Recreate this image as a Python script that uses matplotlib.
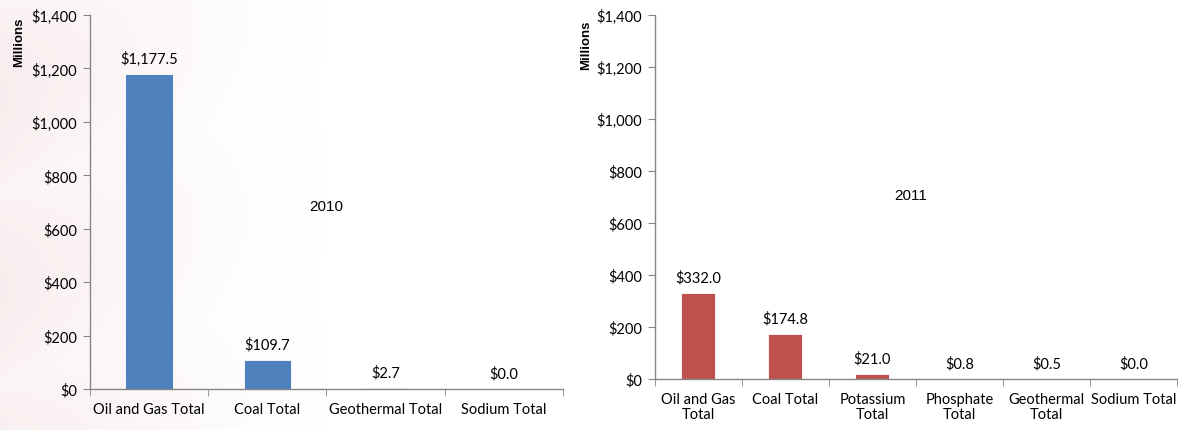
import matplotlib
matplotlib.use("Agg")
import matplotlib.pyplot as plt
import numpy as np
from matplotlib.ticker import FuncFormatter, FixedLocator

cats_2010 = ["Oil and Gas Total", "Coal Total", "Geothermal Total", "Sodium Total"]
vals_2010 = [1177.5, 109.7, 2.7, 0.0]
cats_2011 = ["Oil and Gas\nTotal", "Coal Total", "Potassium\nTotal", "Phosphate\nTotal",
             "Geothermal\nTotal", "Sodium Total"]
vals_2011 = [332.0, 174.8, 21.0, 0.8, 0.5, 0.0]
yticks = [0, 200, 400, 600, 800, 1000, 1200, 1400]

plt.rcParams['font.family'] = ['Lato', 'DejaVu Sans']
fig = plt.figure(figsize=(11.85, 4.31), dpi=100)

# faint watermark-like background on the left
bg = fig.add_axes([0, 0, 1, 1], zorder=-10)
bg.axis('off')
x = np.linspace(0, 1, 400)
y = np.linspace(0, 1, 150)
X, Y = np.meshgrid(x, y)
alpha = np.clip(1 - X / 0.3, 0, 1) ** 1.5 * 0.16 * (0.6 + 0.4 * np.abs(np.sin(Y * 7 + X * 6)))
img = np.zeros((150, 400, 4))
img[..., 0] = 0.85
img[..., 1] = 0.55
img[..., 2] = 0.58
img[..., 3] = alpha
bg.imshow(img, extent=[0, 1, 0, 1], aspect='auto')
bg.set_xlim(0, 1); bg.set_ylim(0, 1)

spine_col = '#868686'

def fmt(v, pos=None):
    return "${:,.0f}".format(v)

def setup(ax, cats, vals, color, width, year, year_xy, label_off):
    n = len(cats)
    xs = np.arange(n)
    ax.bar(xs, vals, width=width, color=color, edgecolor='white', linewidth=0.6, zorder=2)
    ax.set_xlim(-0.5, n - 0.5)
    ax.set_ylim(0, 1400)
    ax.yaxis.set_major_locator(FixedLocator(yticks))
    ax.yaxis.set_major_formatter(FuncFormatter(fmt))
    ax.set_xticks(xs)
    ax.set_xticklabels(cats, fontsize=10.5, linespacing=1.1)
    ax.xaxis.set_minor_locator(FixedLocator(np.arange(n + 1) - 0.5))
    ax.tick_params(axis='x', which='major', length=0, pad=9)
    ax.tick_params(axis='x', which='minor', length=5, color=spine_col, direction='out')
    ax.tick_params(axis='y', length=5, color=spine_col, labelsize=10.5, pad=4)
    for s in ['top', 'right']:
        ax.spines[s].set_visible(False)
    for s in ['left', 'bottom']:
        ax.spines[s].set_color(spine_col)
        ax.spines[s].set_linewidth(1.0)
    ax.patch.set_alpha(0)
    for xi, v in zip(xs, vals):
        ax.annotate("${:,.1f}".format(v), (xi, v), xytext=(0, label_off),
                    textcoords='offset points', ha='center', va='bottom', fontsize=10.5)
    ax.text(year_xy[0], year_xy[1], year, transform=ax.transAxes, fontsize=11,
            family='Liberation Sans', ha='center', va='center')
    ax.set_ylabel("Millions", fontsize=9.5, fontweight='bold', family='Liberation Sans')

ax1 = fig.add_axes([0.0759, 0.0951, 0.3992, 0.8678])
setup(ax1, cats_2010, vals_2010, '#4F81BD', 0.40, "2010", (0.50, 0.49), 6)
ax1.yaxis.set_label_coords(-0.138, 0.93)

ax2 = fig.add_axes([0.5527, 0.1183, 0.4405, 0.8445])
setup(ax2, cats_2011, vals_2011, '#C0504D', 0.39, "2011", (0.49, 0.505), 6)
ax2.yaxis.set_label_coords(-0.12, 0.92)

fig.savefig("out.png", dpi=100)
